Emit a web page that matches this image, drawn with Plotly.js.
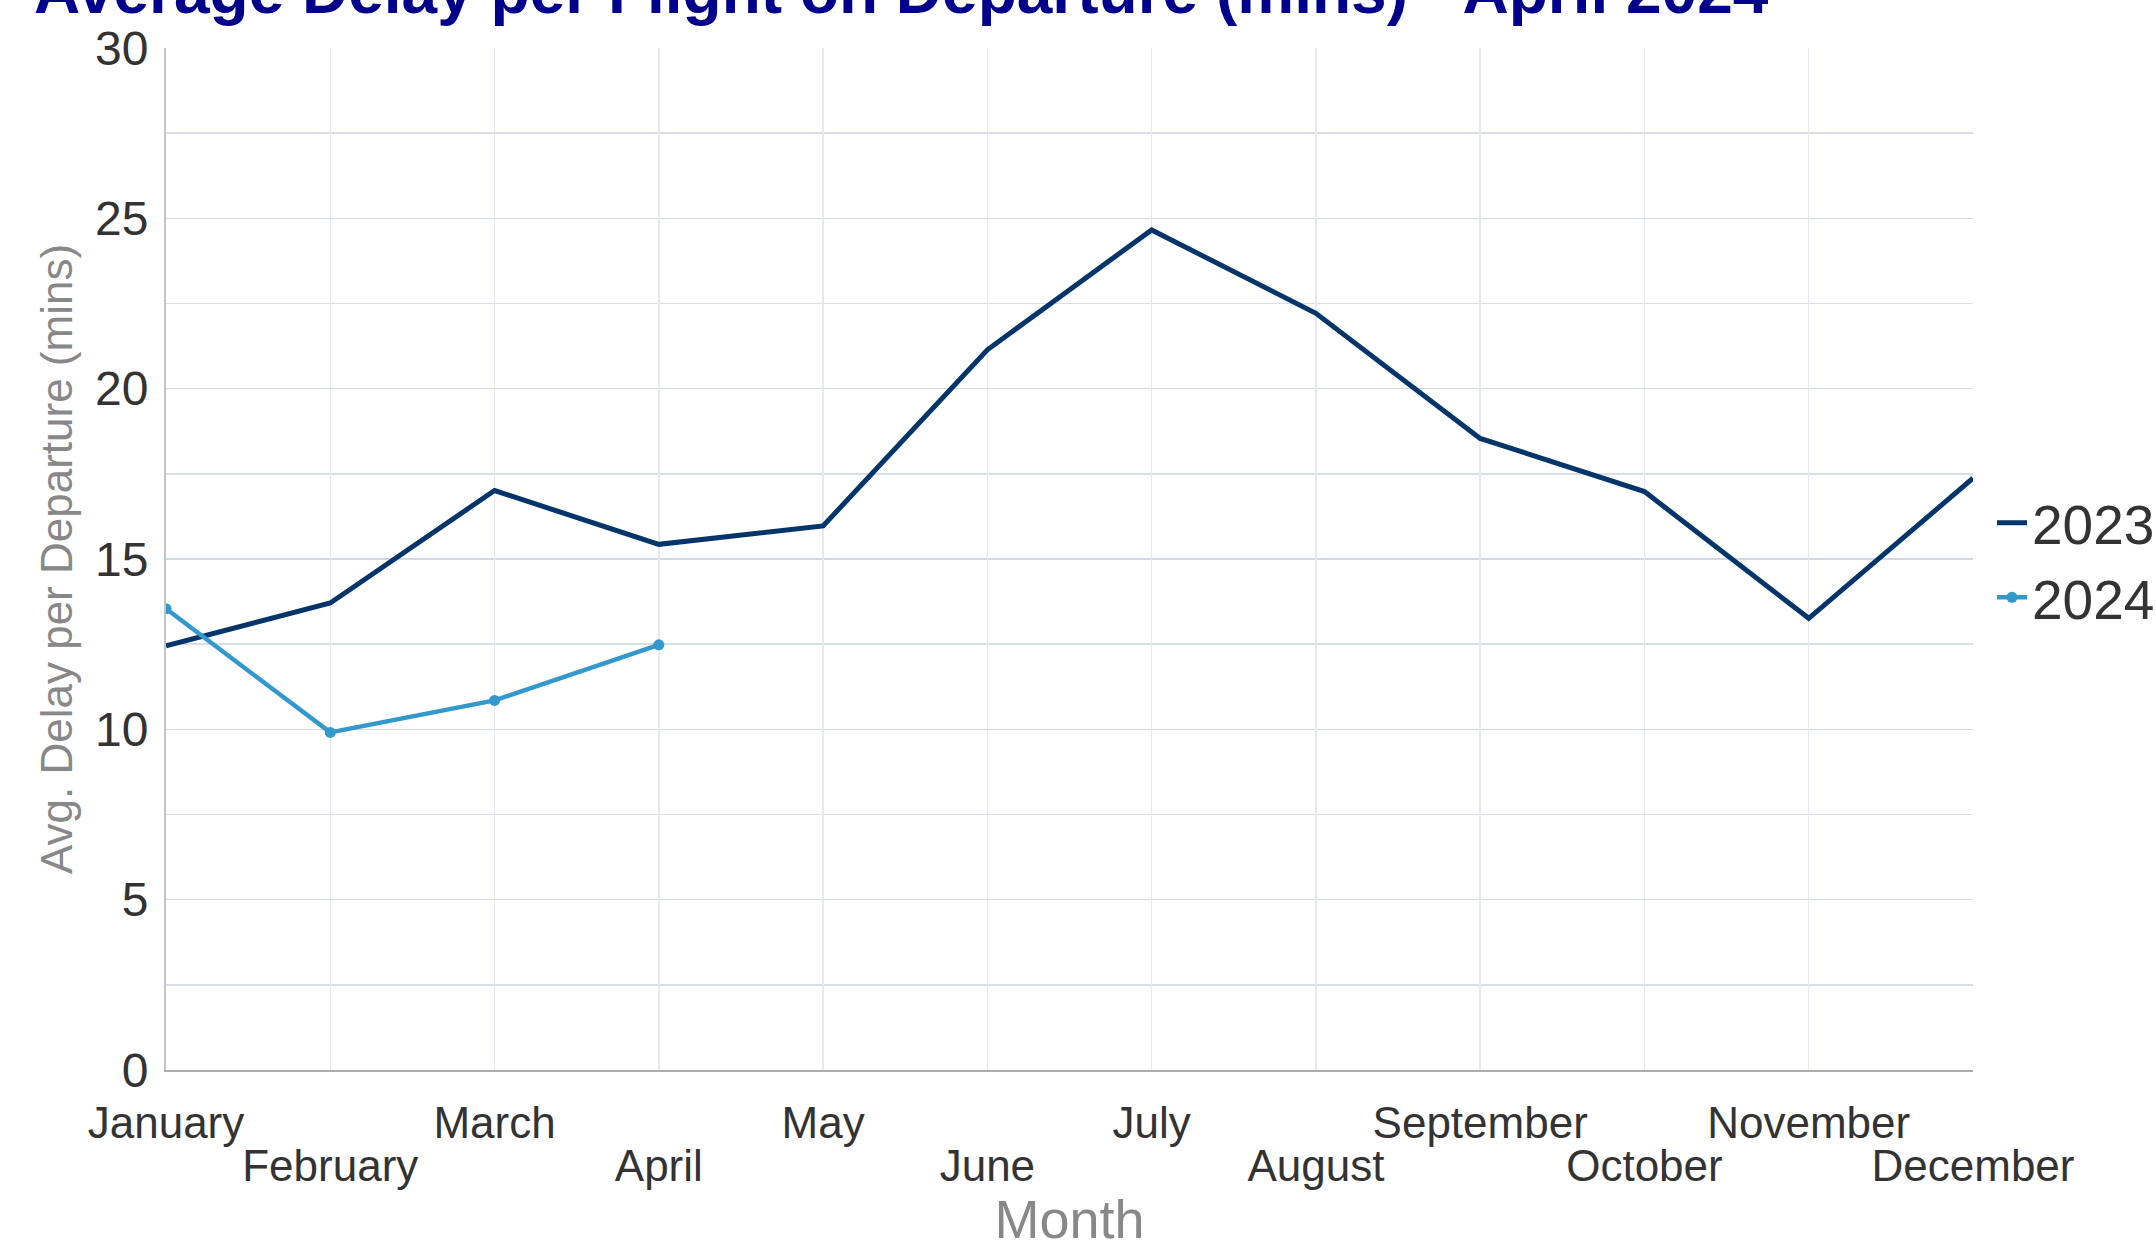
<!DOCTYPE html>
<html>
<head>
<meta charset="utf-8">
<script src="https://cdn.plot.ly/plotly-3.0.1.min.js"></script>
<style>
  html, body { margin: 0; padding: 0; background: #ffffff; }
  #chart { width: 2156px; height: 1256px; }
</style>
</head>
<body>
<div id="chart"></div>
<script>
// ---- data ----
var months = ["January", "February", "March", "April", "May", "June",
              "July", "August", "September", "October", "November", "December"];
var delay2023 = [12.45, 13.71, 17.01, 15.43, 15.97, 21.14, 24.66, 22.21, 18.54, 16.98, 13.26, 17.37];
var months2024 = ["January", "February", "March", "April"];
var delay2024 = [13.54, 9.91, 10.85, 12.48];
var yTickVals = [0, 5, 10, 15, 20, 25, 30];
var yTickText = ["0", "5", "10", "15", "20", "25", "30"];
// tick labels staggered on two rows
var rowOneLabels = ["January", "March", "May", "July", "September", "November"];
var rowTwoLabels = ["February", "April", "June", "August", "October", "December"];

var FONT = "Liberation Sans, Arial, Helvetica, sans-serif";

var traces = [
  {
    x: months, y: delay2023, name: "2023", type: "scatter", mode: "lines",
    line: { color: "#03356a", width: 5 },
    hoverinfo: "x+y+name"
  },
  {
    x: months2024, y: delay2024, name: "2024", type: "scatter", mode: "lines+markers",
    line: { color: "#3399cc", width: 4.5 },
    marker: { color: "#3399cc", size: 11 },
    hoverinfo: "x+y+name"
  }
];

var layout = {
  width: 2156, height: 1256,
  paper_bgcolor: "#ffffff", plot_bgcolor: "#ffffff",
  margin: { l: 166, r: 183, t: 48, b: 186, pad: 0 },
  font: { family: FONT, color: "#333333" },
  title: {
    text: "<b>Average Delay per Flight on Departure (mins) - April 2024</b>",
    font: { family: FONT, size: 64, color: "#00008b" },
    x: 34 / 2156, xanchor: "left", xref: "container",
    y: 1 - 13 / 1256, yanchor: "bottom", yref: "container"
  },
  xaxis: {
    type: "category",
    categoryorder: "array", categoryarray: months,
    range: [0, months.length - 1],
    tickmode: "array", tickvals: rowOneLabels, ticktext: rowOneLabels,
    tickangle: 0,
    tickfont: { family: FONT, size: 44, color: "#333333" },
    ticks: "", ticklabelstandoff: 13,
    showgrid: false,
    showline: true, linecolor: "#acacac", linewidth: 2,
    zeroline: false,
    automargin: false,
    title: { text: "Month", font: { family: FONT, size: 54, color: "#888888" }, standoff: 54 }
  },
  xaxis2: {
    type: "category",
    overlaying: "x", anchor: "y", side: "bottom", matches: "x",
    categoryorder: "array", categoryarray: months,
    range: [0, months.length - 1],
    tickmode: "array", tickvals: rowTwoLabels, ticktext: rowTwoLabels,
    tickangle: 0,
    tickfont: { family: FONT, size: 44, color: "#333333" },
    ticks: "", ticklabelstandoff: 66,
    showgrid: false, showline: false, zeroline: false,
    automargin: false
  },
  xaxis3: {
    type: "category",
    overlaying: "x", anchor: "y", matches: "x",
    categoryorder: "array", categoryarray: months,
    range: [0, months.length - 1],
    tickmode: "array", tickvals: months,
    showticklabels: false, ticks: "",
    showgrid: true, gridcolor: "#e6e9ef", gridwidth: 1.5,
    showline: false, zeroline: false,
    automargin: false
  },
  yaxis: {
    range: [0, 30],
    tickmode: "array", tickvals: yTickVals, ticktext: yTickText,
    tickfont: { family: FONT, size: 48, color: "#333333" },
    ticks: "", ticklabelstandoff: 6,
    showgrid: true, gridcolor: "#d3d9e3", gridwidth: 1.5,
    minor: { dtick: 2.5, showgrid: true, gridcolor: "#d9dee7", gridwidth: 1.5, ticks: "" },
    showline: true, linecolor: "#c4c4c4", linewidth: 2,
    zeroline: false,
    automargin: false,
    title: { text: "Avg. Delay per Departure (mins)", font: { family: FONT, size: 44, color: "#888888" }, standoff: 9 }
  },
  legend: {
    xref: "container", yref: "container",
    x: 1992 / 2156, xanchor: "left", y: 1 - 560 / 1256, yanchor: "middle",
    font: { family: FONT, size: 55, color: "#333333" },
    bgcolor: "rgba(0,0,0,0)", borderwidth: 0,
    tracegroupgap: 0
  },
  showlegend: true,
  hovermode: "closest"
};

// invisible helper traces so the gridline axis and second label row exist
traces.unshift({
  x: months, y: delay2023, xaxis: "x3", type: "scatter", mode: "none",
  showlegend: false, hoverinfo: "skip", opacity: 0
});
traces.push({
  x: months, y: delay2023, xaxis: "x2", type: "scatter", mode: "none",
  showlegend: false, hoverinfo: "skip", opacity: 0
});

Plotly.newPlot("chart", traces, layout, { displayModeBar: false, staticPlot: true });
</script>
</body>
</html>
